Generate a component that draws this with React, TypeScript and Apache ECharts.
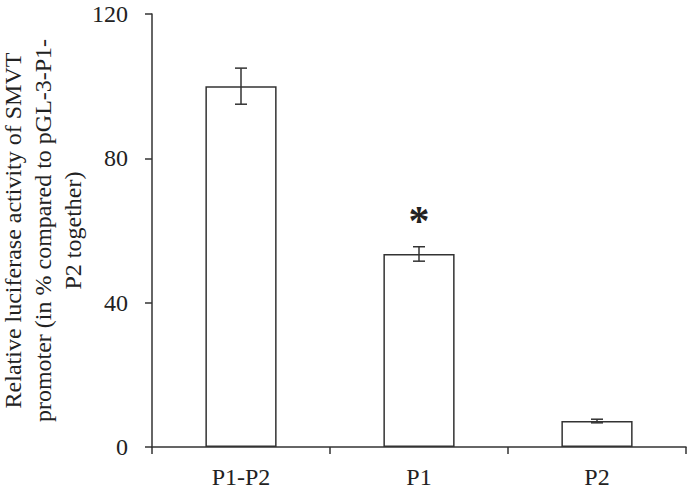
import React, { useEffect, useRef } from "react";
import * as echarts from "echarts";

const categories = ["P1-P2", "P1", "P2"];
const values = [100, 53.5, 7.2];
const errors = [5, 2, 0.5];
const yTicks = [0, 40, 80, 120];
const significance = ["", "*", ""];

export default function App() {
  const ref = useRef<HTMLDivElement>(null);
  useEffect(() => {
    document.body.style.margin = "0";
    const chart = echarts.init(ref.current!, null, { renderer: "svg" });
    const font = "Liberation Serif";
    const ink = "#333";
    chart.setOption({
      animation: false,
      grid: { left: 152, right: 2, top: 14, bottom: 48, containLabel: false, outerBoundsMode: "none" },
      xAxis: {
        type: "category",
        data: categories,
        axisLine: { lineStyle: { color: ink, width: 1.5 } },
        axisTick: { show: true, length: 7, inside: false, lineStyle: { color: ink, width: 1.5 } },
        axisLabel: { color: "#222", fontFamily: font, fontSize: 24, margin: 18 },
      },
      yAxis: {
        type: "value",
        min: yTicks[0],
        max: yTicks[yTicks.length - 1],
        interval: 40,
        name: "Relative luciferase activity of SMVT\npromoter (in % compared to pGL-3-P1-\nP2 together)",
        nameLocation: "middle",
        nameGap: 64,
        nameMoveOverlap: false,
        nameTextStyle: { color: "#222", fontFamily: font, fontSize: 24, lineHeight: 30 },
        splitLine: { show: false },
        axisLine: { show: true, lineStyle: { color: ink, width: 1.5 } },
        axisTick: { show: true, length: 7, lineStyle: { color: ink, width: 1.5 } },
        axisLabel: { color: "#222", fontFamily: font, fontSize: 24, margin: 24 },
      },
      series: [
        {
          type: "bar",
          barWidth: "40%",
          data: values.map((v, i) => ({
            value: v,
            label: significance[i]
              ? {
                  show: true,
                  position: "top",
                  formatter: significance[i],
                  fontFamily: font,
                  fontSize: 42,
                  fontWeight: "bold",
                  color: "#222",
                  distance: 2,
                  offset: [0, -10],
                }
              : { show: false },
          })),
          itemStyle: { color: "#fff", borderColor: ink, borderWidth: 1.5 },
        },
        {
          type: "custom",
          data: values.map((v, i) => [i, v - errors[i], v + errors[i]]),
          renderItem: (params: any, api: any) => {
            const x = api.value(0);
            const lo = api.coord([x, api.value(1)]);
            const hi = api.coord([x, api.value(2)]);
            const half = 6;
            const style = { stroke: ink, lineWidth: 1.5 };
            return {
              type: "group",
              children: [
                { type: "line", shape: { x1: lo[0], y1: lo[1], x2: hi[0], y2: hi[1] }, style },
                { type: "line", shape: { x1: lo[0] - half, y1: lo[1], x2: lo[0] + half, y2: lo[1] }, style },
                { type: "line", shape: { x1: hi[0] - half, y1: hi[1], x2: hi[0] + half, y2: hi[1] }, style },
              ],
            };
          },
          z: 5,
        },
      ],
    });
    return () => chart.dispose();
  }, []);
  return <div ref={ref} style={{ width: 688, height: 495 }} />;
}
